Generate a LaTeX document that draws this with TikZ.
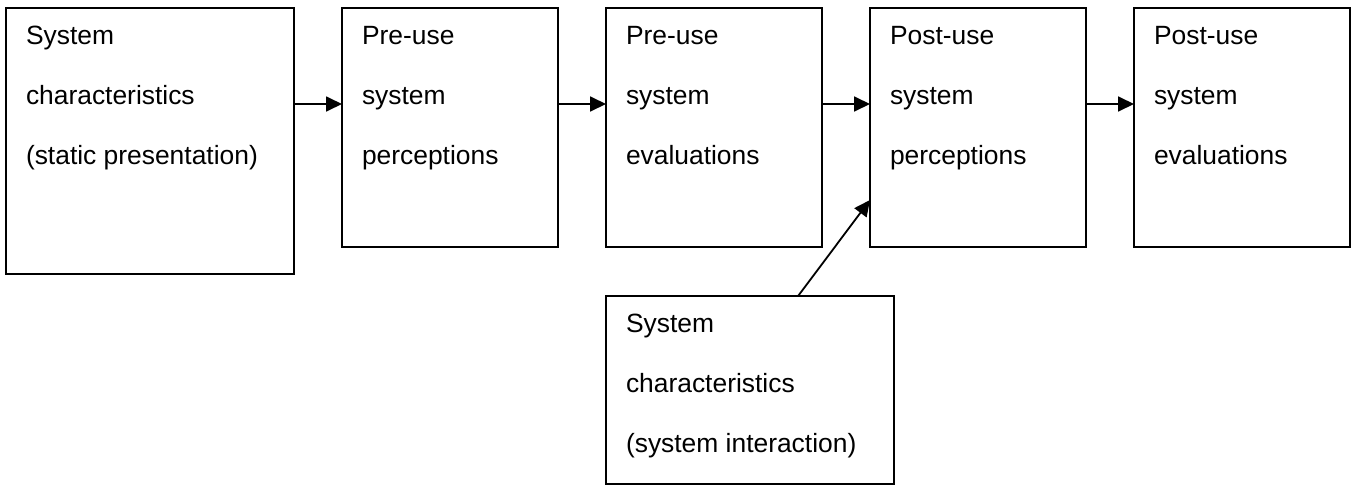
\documentclass[tikz,border=0pt]{standalone}
\usepackage{fontspec}
\setmainfont{Liberation Sans}
\usetikzlibrary{arrows.meta,calc}
\begin{document}
\begin{tikzpicture}[x=1pt,y=-1pt,
  box/.style={draw,line width=1.8pt,inner sep=0pt,outer sep=0pt,anchor=north west},
  lbl/.style={anchor=north west,inner sep=0pt,outer sep=0pt,align=left,font=\fontsize{26.4}{60}\selectfont},
  arr/.style={-{Triangle[length=16pt,width=15pt]},line width=1.8pt}]
\useasboundingbox (0,0) rectangle (1359,485);
\node[box,minimum width=288pt,minimum height=266pt] (b1) at (6,8) {};
\node[box,minimum width=216pt,minimum height=239pt] (b2) at (342,8) {};
\node[box,minimum width=216pt,minimum height=239pt] (b3) at (606,8) {};
\node[box,minimum width=216pt,minimum height=239pt] (b4) at (870,8) {};
\node[box,minimum width=216pt,minimum height=239pt] (b5) at (1134,8) {};
\node[box,minimum width=288pt,minimum height=188pt] (b6) at (606,296) {};
\node[lbl] (t1) at ($(b1.north west)+(20,0)$) {\rule{0pt}{36pt}System\\characteristics\\(static presentation)};
\node[lbl] (t2) at ($(b2.north west)+(20,0)$) {\rule{0pt}{36pt}Pre-use\\system\\perceptions};
\node[lbl] (t3) at ($(b3.north west)+(20,0)$) {\rule{0pt}{36pt}Pre-use\\system\\evaluations};
\node[lbl] (t4) at ($(b4.north west)+(20,0)$) {\rule{0pt}{36pt}Post-use\\system\\perceptions};
\node[lbl] (t5) at ($(b5.north west)+(20,0)$) {\rule{0pt}{36pt}Post-use\\system\\evaluations};
\node[lbl] (t6) at ($(b6.north west)+(20,0)$) {\rule{0pt}{36pt}System\\characteristics\\(system interaction)};
\coordinate (ya) at (0,104);
\coordinate (yd) at (0,200);
\draw[arr] (b1.east |- ya) -- (b2.west |- ya);
\draw[arr] (b2.east |- ya) -- (b3.west |- ya);
\draw[arr] (b3.east |- ya) -- (b4.west |- ya);
\draw[arr] (b4.east |- ya) -- (b5.west |- ya);
\draw[arr] ($(b6.north west)!0.667!(b6.north east)$) -- (b4.west |- yd);
\end{tikzpicture}
\end{document}
